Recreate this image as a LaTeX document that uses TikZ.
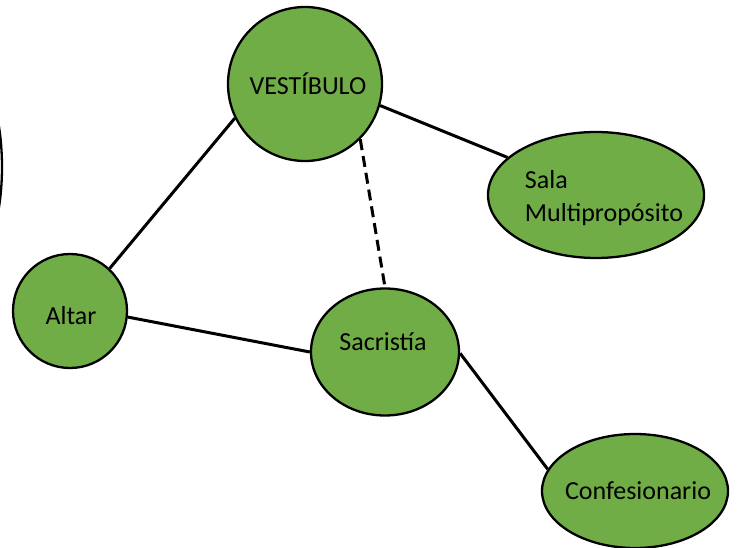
\documentclass[tikz,border=0pt]{standalone}
\usepackage{fontspec}
\setmainfont{Carlito}
\usetikzlibrary{shapes.geometric}
\definecolor{roomgreen}{HTML}{70AD47}
\begin{document}
\begin{tikzpicture}[x=1pt,y=-1pt,
  room/.style={draw=black, line width=2.3pt, fill=roomgreen, inner sep=0pt},
  roomc/.style={room, circle},
  roome/.style={room, ellipse},
  roomtext/.style={font=\fontsize{26}{33}\selectfont, text=black, inner sep=0pt, align=left},
  link/.style={draw=black, line width=3pt},
  maybe/.style={link, dash pattern=on 11pt off 6pt}]
\useasboundingbox (0,0) rectangle (738,548);
\begin{scope}
\clip (0,0) rectangle (738,548);
\draw[line width=2.3pt] (-40,167) ellipse [x radius=42, y radius=108];
\end{scope}
\node[roomc, minimum size=154pt,
  label={[roomtext, xshift=3pt, yshift=0pt]center:VESTÍBULO}] (v) at (305,84) {};
\node[roome, minimum width=216pt, minimum height=126pt,
  label={[roomtext, xshift=8pt, yshift=-3pt]center:Sala\\Multipropósito}] (m) at (596,195) {};
\node[roomc, minimum size=114pt,
  label={[roomtext, xshift=1pt, yshift=-5pt]center:Altar}] (a) at (70,311) {};
\node[roome, minimum width=148pt, minimum height=127pt,
  label={[roomtext, xshift=-2pt, yshift=10pt]center:Sacristía}] (s) at (385,352) {};
\node[roome, minimum width=186pt, minimum height=114pt,
  label={[roomtext, xshift=3pt, yshift=0pt]center:Confesionario}] (c) at (635,491) {};
\draw[link] (v.206) -- (a.47);
\draw[link] (v.-16) -- (m.157);
\draw[maybe] (v.-45) -- (s.90);
\draw[link] (a.-6) -- (s.180);
\draw[link] (s.-1) -- (c.166);
\end{tikzpicture}
\end{document}
